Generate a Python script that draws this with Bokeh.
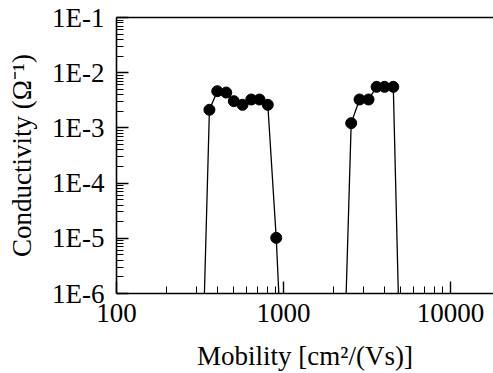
from bokeh.plotting import figure
from bokeh.models import FixedTicker, LogAxis, CustomJSTickFormatter
from bokeh.embed import file_html
from bokeh.resources import INLINE

# Data
mob1 = [360, 401, 454, 504, 568, 641, 718, 805, 904]
cond1 = [2.13e-3, 4.62e-3, 4.37e-3, 3.05e-3, 2.62e-3, 3.27e-3, 3.27e-3, 2.62e-3, 1.02e-5]
mob2 = [2541, 2851, 3228, 3606, 4025, 4540]
cond2 = [1.22e-3, 3.27e-3, 3.27e-3, 5.55e-3, 5.55e-3, 5.55e-3]
# where the curves drop out of the axis range (value below 1E-6)
edge_mob1 = [336, 937]
edge_mob2 = [2371, 4865]
floor_val = 1e-6

y_decades = [1e-6, 1e-5, 1e-4, 1e-3, 1e-2, 1e-1]
x_decades = [100, 1000, 10000]
x_min, x_max = 100, 18070
y_min, y_max = 1e-6, 1e-1

FONT = "Liberation Serif"

p = figure(width=493, height=373, x_axis_type="log", y_axis_type="log",
           x_range=(x_min, x_max), y_range=(y_min, y_max),
           output_backend="svg", toolbar_location=None,
           min_border_left=116, min_border_right=0, min_border_top=17, min_border_bottom=80)
p.outline_line_color = None
p.xgrid.visible = False
p.ygrid.visible = False
p.background_fill_color = "white"
p.border_fill_color = "white"

line_x1 = [edge_mob1[0]] + mob1 + [edge_mob1[1]]
line_y1 = [floor_val] + cond1 + [floor_val]
line_x2 = [edge_mob2[0]] + mob2 + [edge_mob2[1]]
line_y2 = [floor_val] + cond2 + [floor_val]

p.line(line_x1, line_y1, line_color="black", line_width=1.3)
p.line(line_x2, line_y2, line_color="black", line_width=1.3)
p.scatter(mob1 + mob2, cond1 + cond2, size=11, fill_color="black", line_color="black")

x_minor = [m * d for d in [100, 1000, 10000] for m in range(2, 10)]
y_minor = [m * d for d in y_decades[:-1] for m in range(2, 10)]

for ax in (p.xaxis[0], p.yaxis[0]):
    ax.axis_line_width = 1.6
    ax.axis_line_color = "black"
    ax.major_tick_in = 12
    ax.major_tick_out = 0
    ax.minor_tick_in = 7
    ax.minor_tick_out = 0
    ax.major_tick_line_width = 1.4
    ax.minor_tick_line_width = 1
    ax.major_label_text_font = FONT
    ax.major_label_text_font_size = "27px"
    ax.major_label_text_color = "black"
    ax.axis_label_text_font = FONT
    ax.axis_label_text_font_size = "27px"
    ax.axis_label_text_font_style = "normal"
    ax.axis_label_text_color = "black"

p.xaxis[0].ticker = FixedTicker(ticks=x_decades, minor_ticks=x_minor)
p.yaxis[0].ticker = FixedTicker(ticks=y_decades, minor_ticks=y_minor)
p.yaxis[0].formatter = CustomJSTickFormatter(code="return '1E' + Math.round(Math.log10(tick));")
p.xaxis[0].formatter = CustomJSTickFormatter(code="return String(Math.round(tick));")
p.xaxis[0].major_label_standoff = 10
p.yaxis[0].major_label_standoff = 12
p.xaxis[0].axis_label = "Mobility [cm²/(Vs)]"
p.yaxis[0].axis_label = "Conductivity (Ω⁻¹)"
p.xaxis[0].axis_label_standoff = 16
p.yaxis[0].axis_label_standoff = 12

top = LogAxis(ticker=FixedTicker(ticks=[]), axis_line_width=1.3, axis_line_color="black",
              major_tick_in=0, major_tick_out=0, minor_tick_in=0, minor_tick_out=0,
              major_label_text_font_size="0px")
p.add_layout(top, "above")

open("out.html", "w").write(file_html(p, INLINE))
